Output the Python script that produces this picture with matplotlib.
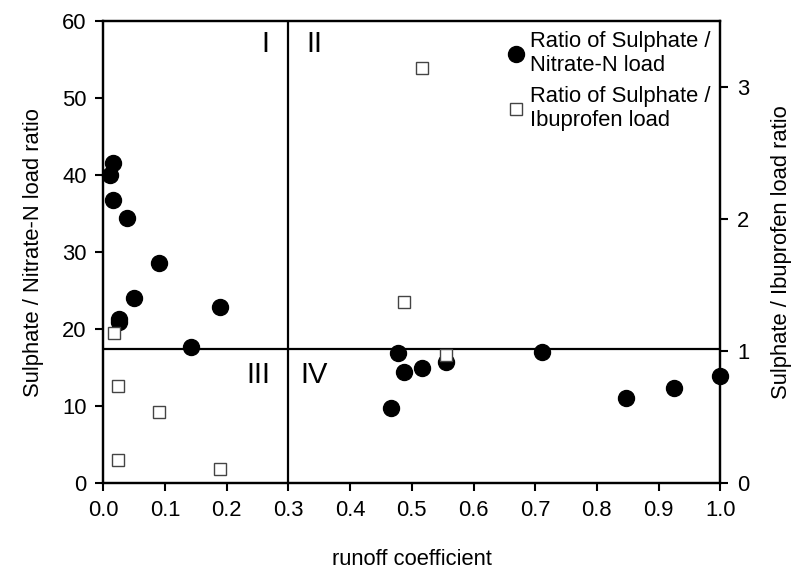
import matplotlib
matplotlib.use("Agg")
import matplotlib.pyplot as plt
from matplotlib.lines import Line2D

plt.rcParams['font.family'] = ['Liberation Sans', 'DejaVu Sans']

# Ratio of Sulphate / Nitrate-N load (left axis)
nitrate_x = [0.010, 0.015, 0.016, 0.039, 0.091, 0.049, 0.025, 0.025, 0.189, 0.142,
             0.477, 0.487, 0.517, 0.556, 0.711, 0.466, 1.000, 0.925, 0.848]
nitrate_y = [40.0, 41.6, 36.8, 34.4, 28.6, 24.1, 21.4, 20.9, 22.9, 17.7,
             16.9, 14.5, 14.95, 15.7, 17.1, 9.75, 13.95, 12.4, 11.05]

# Ratio of Sulphate / Ibuprofen load (right axis)
ibu_x = [0.017, 0.024, 0.090, 0.024, 0.189, 0.487, 0.556, 0.517]
ibu_y = [1.14, 0.74, 0.54, 0.18, 0.106, 1.37, 0.97, 3.15]

xticks = [0.0, 0.1, 0.2, 0.3, 0.4, 0.5, 0.6, 0.7, 0.8, 0.9, 1.0]
left_ticks = [0, 10, 20, 30, 40, 50, 60]
right_ticks = [0, 1, 2, 3]
quadrant_labels = ["I", "II", "III", "IV"]

FS = 15.8

fig = plt.figure(figsize=(7.95, 5.76), dpi=100)
ax = fig.add_axes([0.13, 0.161, 0.776, 0.802])
ax2 = ax.twinx()

ax.set_xlim(0, 1.0)
ax.set_ylim(0, 60)
ax2.set_ylim(0, 3.5)

# quadrant lines
ax.axvline(0.3, color='black', lw=1.6, zorder=1)
ax.axhline(17.5, color='black', lw=1.6, zorder=1)

ax.plot(nitrate_x, nitrate_y, 'o', color='black', markersize=11.5, zorder=3, clip_on=False)
ax2.plot(ibu_x, ibu_y, 's', markerfacecolor='white', markeredgecolor='#444444',
         markeredgewidth=1.0, markersize=8, zorder=4, clip_on=False)

ax.set_xticks(xticks)
ax.set_xticklabels([f"{v:.1f}" for v in xticks])
ax.set_yticks(left_ticks)
ax2.set_yticks(right_ticks)

for a in (ax, ax2):
    a.tick_params(direction='out', length=6, width=1.5, labelsize=FS, pad=6)
    for s in a.spines.values():
        s.set_linewidth(1.6)

ax.set_xlabel("runoff coefficient", fontsize=FS, labelpad=20)
ax.set_ylabel("Sulphate / Nitrate-N load ratio", fontsize=FS, labelpad=13)
ax2.set_ylabel("Sulphate / Ibuprofen load ratio", fontsize=FS, labelpad=16)

# quadrant labels
ax.text(0.263, 57, quadrant_labels[0], fontsize=21, ha='center', va='center')
ax.text(0.342, 57, quadrant_labels[1], fontsize=21, ha='center', va='center')
ax.text(0.252, 14.0, quadrant_labels[2], fontsize=21, ha='center', va='center')
ax.text(0.342, 14.0, quadrant_labels[3], fontsize=21, ha='center', va='center')

handles = [
    Line2D([], [], marker='o', color='black', linestyle='none', markersize=11.5),
    Line2D([], [], marker='s', markerfacecolor='white', markeredgecolor='#444444',
           markeredgewidth=1.0, linestyle='none', markersize=8),
]
labels = ["Ratio of Sulphate /\nNitrate-N load", "Ratio of Sulphate /\nIbuprofen load"]
ax2.legend(handles, labels, loc='upper right', frameon=False, fontsize=FS,
           handletextpad=0.15, handlelength=1.0, borderaxespad=0.15, borderpad=0.3,
           labelspacing=0.45)

fig.savefig("out.png", dpi=100)
